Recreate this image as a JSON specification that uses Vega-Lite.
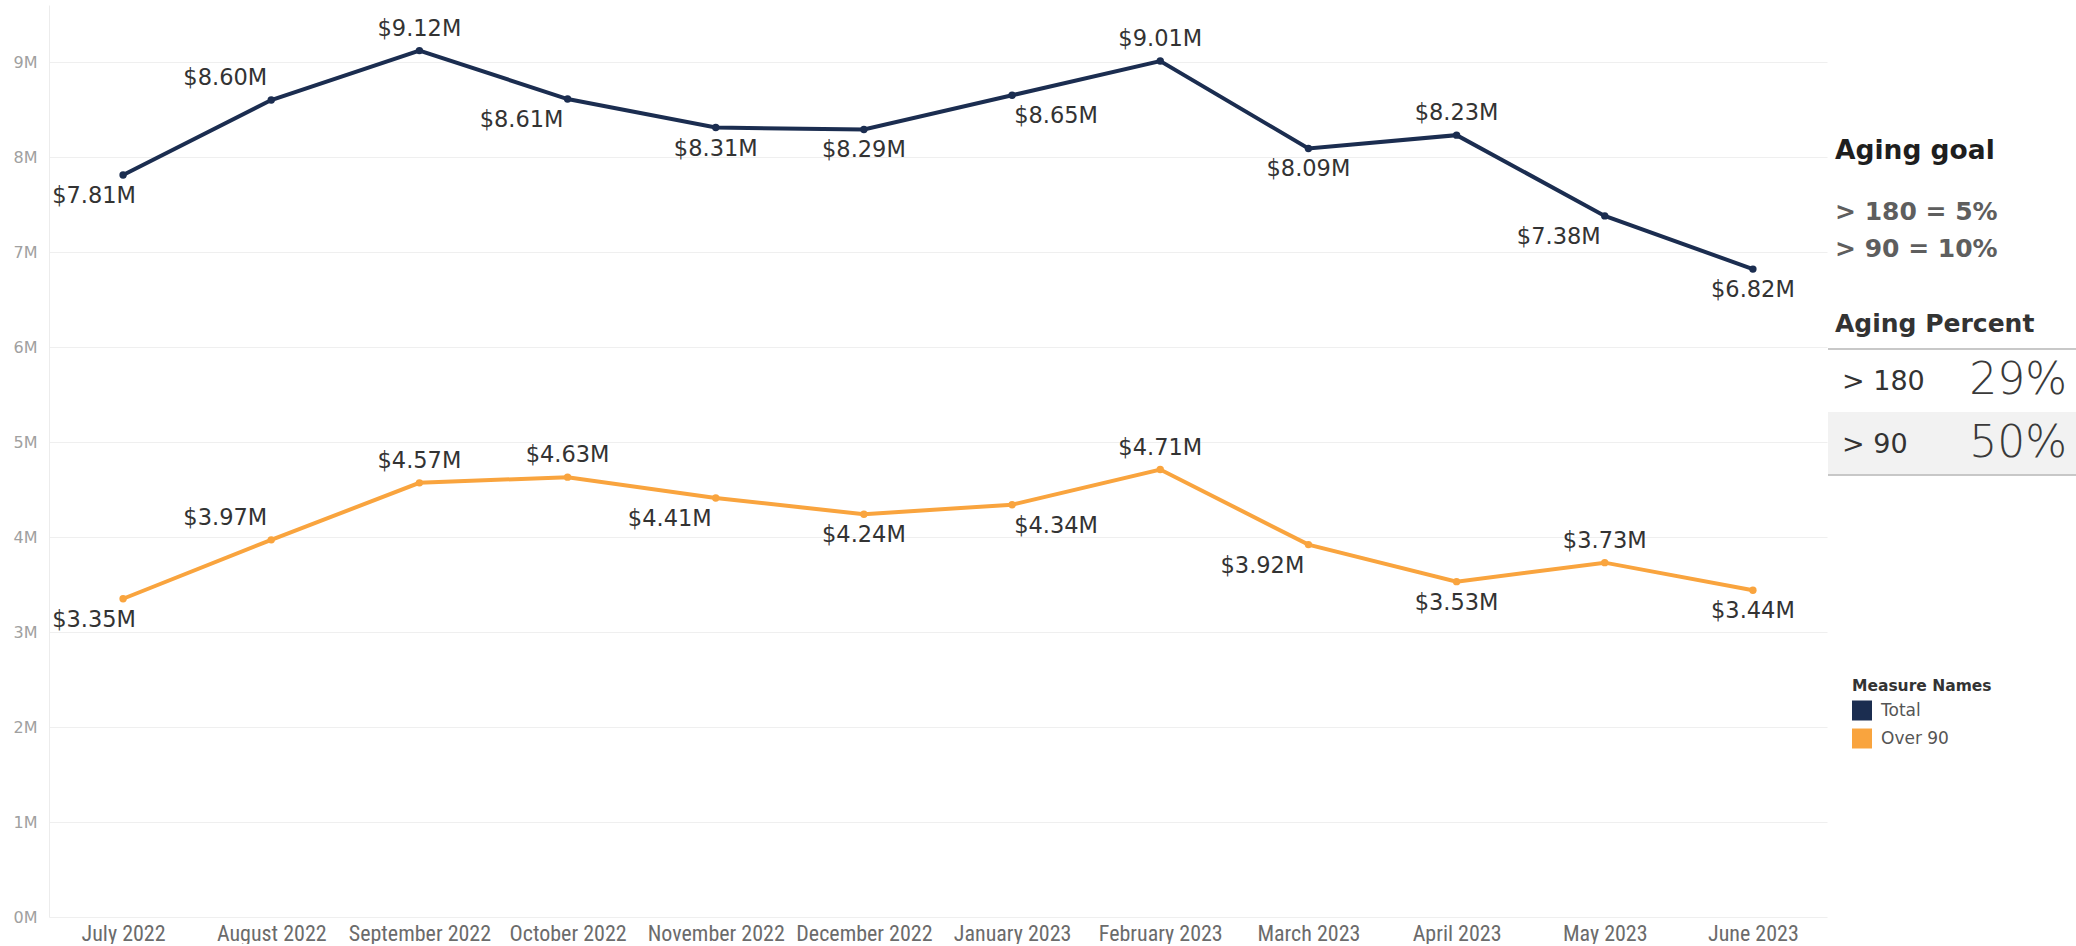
{
  "$schema": "https://vega.github.io/schema/vega-lite/v6.json",
  "padding": {"left": 13, "top": 5, "right": 0, "bottom": 0},
  "background": "white",
  "bounds": "flush",
  "spacing": 1,
  "config": {"view": {"stroke": null}, "font": "DejaVu Sans"},
  "datasets": {
    "ar": [
      {"month": "July 2022", "series": "Total", "amount": 7810000},
      {"month": "July 2022", "series": "Over 90", "amount": 3350000},
      {"month": "August 2022", "series": "Total", "amount": 8600000},
      {"month": "August 2022", "series": "Over 90", "amount": 3970000},
      {"month": "September 2022", "series": "Total", "amount": 9120000},
      {"month": "September 2022", "series": "Over 90", "amount": 4570000},
      {"month": "October 2022", "series": "Total", "amount": 8610000},
      {"month": "October 2022", "series": "Over 90", "amount": 4630000},
      {"month": "November 2022", "series": "Total", "amount": 8310000},
      {"month": "November 2022", "series": "Over 90", "amount": 4410000},
      {"month": "December 2022", "series": "Total", "amount": 8290000},
      {"month": "December 2022", "series": "Over 90", "amount": 4240000},
      {"month": "January 2023", "series": "Total", "amount": 8650000},
      {"month": "January 2023", "series": "Over 90", "amount": 4340000},
      {"month": "February 2023", "series": "Total", "amount": 9010000},
      {"month": "February 2023", "series": "Over 90", "amount": 4710000},
      {"month": "March 2023", "series": "Total", "amount": 8090000},
      {"month": "March 2023", "series": "Over 90", "amount": 3920000},
      {"month": "April 2023", "series": "Total", "amount": 8230000},
      {"month": "April 2023", "series": "Over 90", "amount": 3530000},
      {"month": "May 2023", "series": "Total", "amount": 7380000},
      {"month": "May 2023", "series": "Over 90", "amount": 3730000},
      {"month": "June 2023", "series": "Total", "amount": 6820000},
      {"month": "June 2023", "series": "Over 90", "amount": 3440000}
    ],
    "goals": [{"goal": "> 180 = 5%"}, {"goal": "> 90 = 10%"}],
    "aging": [{"bucket": "> 180", "pct": 0.29}, {"bucket": "> 90", "pct": 0.50}]
  },
  "hconcat": [
    {
      "width": 1778,
      "height": 912,
      "data": {"name": "ar"},
      "encoding": {
        "x": {
          "field": "month", "type": "ordinal", "sort": null,
          "scale": {"type": "point", "padding": 0.5},
          "axis": {"title": null, "labelAngle": 0, "ticks": false, "domain": false, "grid": false,
                   "labelFont": "Liberation Sans Narrow, Arial Narrow, Roboto Condensed, sans-serif",
                   "labelFontSize": 22, "labelColor": "#6b6b6b", "labelPadding": 6}
        },
        "y": {
          "field": "amount", "type": "quantitative",
          "scale": {"domain": [0, 9600000], "nice": false, "zero": true},
          "axis": {"title": null,
                   "values": [0, 1000000, 2000000, 3000000, 4000000, 5000000, 6000000, 7000000, 8000000, 9000000],
                   "labelExpr": "(datum.value / 1000000) + 'M'",
                   "ticks": false, "domain": true, "domainColor": "#ececec", "domainWidth": 1,
                   "grid": true, "gridColor": "#efefef", "gridWidth": 1,
                   "labelFontSize": 16, "labelColor": "#a0a0a0", "labelPadding": 12}
        },
        "color": {
          "field": "series", "type": "nominal",
          "scale": {"domain": ["Total", "Over 90"], "range": ["#1b2d50", "#f9a43e"]},
          "legend": {
            "orient": "none", "legendX": 1803, "legendY": 674,
            "title": "Measure Names", "titleFontSize": 15.5, "titleFontWeight": "bold", "titleColor": "#333333",
            "titlePadding": 6,
            "labelFontSize": 17, "labelColor": "#555555", "labelOffset": 9,
            "symbolType": "square", "symbolSize": 400, "symbolStrokeWidth": 0, "rowPadding": 8,
            "encode": {"symbols": {"update": {"fill": {"scale": "color", "field": "value"}, "opacity": {"value": 1}, "strokeWidth": {"value": 0}}}}
          }
        }
      },
      "layer": [
        {"mark": {"type": "line", "strokeWidth": 4}},
        {"mark": {"type": "point", "filled": true, "size": 55, "opacity": 1}},
        {
          "transform": [{"filter": {"or": [
            {"and": [{"field": "series", "equal": "Total"}, {"field": "month", "oneOf": ["September 2022", "February 2023", "April 2023"]}]},
            {"and": [{"field": "series", "equal": "Over 90"}, {"field": "month", "oneOf": ["September 2022", "October 2022", "February 2023", "May 2023"]}]}
          ]}}],
          "mark": {"type": "text", "fontSize": 22.5, "baseline": "middle", "align": "center", "dy": -22},
          "encoding": {"text": {"field": "amount", "type": "quantitative", "format": "$.3s"}, "color": {"value": "#333333"}}
        },
        {
          "transform": [{"filter": {"field": "month", "equal": "August 2022"}}],
          "mark": {"type": "text", "fontSize": 22.5, "baseline": "middle", "align": "center", "dy": -22, "dx": -46},
          "encoding": {"text": {"field": "amount", "type": "quantitative", "format": "$.3s"}, "color": {"value": "#333333"}}
        },
        {
          "transform": [{"filter": {"field": "month", "equal": "January 2023"}}],
          "mark": {"type": "text", "fontSize": 22.5, "baseline": "middle", "align": "center", "dy": 21, "dx": 44},
          "encoding": {"text": {"field": "amount", "type": "quantitative", "format": "$.3s"}, "color": {"value": "#333333"}}
        },
        {
          "transform": [{"filter": {"field": "month", "equal": "July 2022"}}],
          "mark": {"type": "text", "fontSize": 22.5, "baseline": "middle", "align": "center", "dy": 21, "dx": -29},
          "encoding": {"text": {"field": "amount", "type": "quantitative", "format": "$.3s"}, "color": {"value": "#333333"}}
        },
        {
          "transform": [{"filter": {"or": [
            {"and": [{"field": "series", "equal": "Total"}, {"field": "month", "oneOf": ["October 2022", "May 2023"]}]},
            {"and": [{"field": "series", "equal": "Over 90"}, {"field": "month", "oneOf": ["November 2022", "March 2023"]}]}
          ]}}],
          "mark": {"type": "text", "fontSize": 22.5, "baseline": "middle", "align": "center", "dy": 21, "dx": -46},
          "encoding": {"text": {"field": "amount", "type": "quantitative", "format": "$.3s"}, "color": {"value": "#333333"}}
        },
        {
          "transform": [{"filter": {"or": [
            {"and": [{"field": "series", "equal": "Total"}, {"field": "month", "oneOf": ["November 2022", "December 2022", "March 2023", "June 2023"]}]},
            {"and": [{"field": "series", "equal": "Over 90"}, {"field": "month", "oneOf": ["December 2022", "April 2023", "June 2023"]}]}
          ]}}],
          "mark": {"type": "text", "fontSize": 22.5, "baseline": "middle", "align": "center", "dy": 21},
          "encoding": {"text": {"field": "amount", "type": "quantitative", "format": "$.3s"}, "color": {"value": "#333333"}}
        }
      ]
    },
    {
      "spacing": 45,
      "vconcat": [
        {"width": 248, "height": 87, "data": {"values": []}, "mark": "text"},
        {
          "width": 248,
          "height": 74,
          "data": {"name": "goals"},
          "title": {"text": "Aging goal", "anchor": "start", "frame": "group", "dx": 7, "fontSize": 26.5, "fontWeight": "bold",
                    "color": "#1e1e1e", "font": "DejaVu Sans", "baseline": "alphabetic", "offset": 8},
          "mark": {"type": "text", "align": "left", "baseline": "middle", "fontSize": 25, "fontWeight": "bold", "color": "#5e5e5e"},
          "encoding": {
            "y": {"field": "goal", "type": "nominal", "sort": null, "axis": null, "scale": {"type": "band", "paddingInner": 0, "paddingOuter": 0}},
            "x": {"value": 7},
            "text": {"field": "goal"}
          }
        },
        {
          "width": 248,
          "height": 126,
          "data": {"name": "aging"},
          "title": {"text": "Aging Percent", "anchor": "start", "frame": "group", "dx": 7, "fontSize": 25, "fontWeight": "bold",
                    "color": "#333333", "font": "DejaVu Sans", "baseline": "alphabetic", "offset": -9},
          "encoding": {
            "y": {"field": "bucket", "type": "nominal", "sort": null, "axis": null, "scale": {"type": "band", "paddingInner": 0, "paddingOuter": 0}}
          },
          "layer": [
            {
              "mark": {"type": "rect"},
              "encoding": {
                "x": {"value": 0}, "x2": {"value": "width"},
                "color": {"condition": {"test": "datum.bucket === '> 90'", "value": "#f2f2f2"}, "value": "#ffffff"}
              }
            },
            {"mark": {"type": "rule", "color": "#c4c4c4", "strokeWidth": 1.5}, "encoding": {"y": {"value": 0}}},
            {"mark": {"type": "rule", "color": "#c4c4c4", "strokeWidth": 1.5}, "encoding": {"y": {"value": "height"}}},
            {
              "mark": {"type": "text", "align": "left", "baseline": "middle", "fontSize": 27, "color": "#333333", "dy": 1},
              "encoding": {"x": {"value": 14}, "text": {"field": "bucket"}}
            },
            {
              "mark": {"type": "text", "align": "right", "baseline": "middle", "fontSize": 44, "fontWeight": 300, "color": "#3a3a3a", "dx": -9, "dy": 0},
              "encoding": {"x": {"value": "width"}, "text": {"field": "pct", "type": "quantitative", "format": ".0%"}}
            }
          ]
        }
      ]
    }
  ]
}
